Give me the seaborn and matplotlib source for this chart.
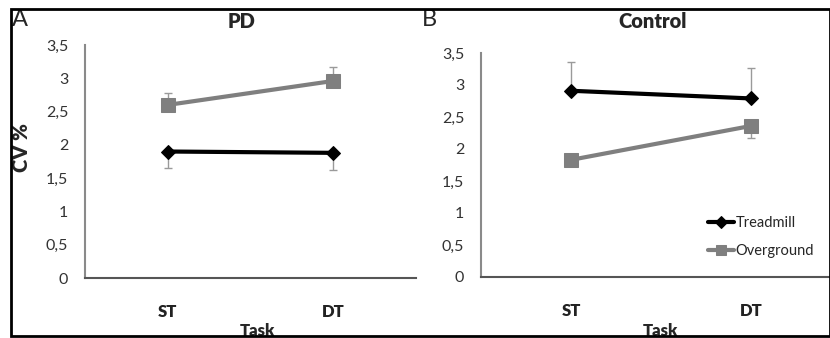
import matplotlib
matplotlib.use("Agg")
import matplotlib.pyplot as plt
import seaborn as sns
import pandas as pd
from matplotlib.patches import Rectangle

sns.set_style("white")
plt.rcParams['font.family'] = ['Lato', 'DejaVu Sans']

tasks = ["ST", "DT"]
conditions = ["Treadmill", "Overground"]

pd_treadmill = [1.90, 1.88]
pd_treadmill_err_low = [0.25, 0.26]
pd_overground = [2.60, 2.96]
pd_overground_err_up = [0.18, 0.21]

ctrl_treadmill = [2.91, 2.79]
ctrl_treadmill_err_up = [0.45, 0.47]
ctrl_overground = [1.83, 2.36]
ctrl_overground_err_low = [0.05, 0.19]

yticks = [0, 0.5, 1, 1.5, 2, 2.5, 3, 3.5]
ytick_labels = ["0", "0,5", "1", "1,5", "2", "2,5", "3", "3,5"]

colors = {"Treadmill": "#000000", "Overground": "#7f7f7f"}
markers = {"Treadmill": "D", "Overground": "s"}

W, H = 830, 338
fig = plt.figure(figsize=(W / 100, H / 100), dpi=100)


def fx(px):
    return px / W


def fy(py):
    return 1 - py / H


def make_df(tr, og):
    rows = []
    for i, t in enumerate(tasks):
        rows.append({"Task": t, "Condition": "Treadmill", "CV": tr[i]})
        rows.append({"Task": t, "Condition": "Overground", "CV": og[i]})
    return pd.DataFrame(rows)


def draw_panel(ax, tr, og, tr_err, og_err, xmax):
    df = make_df(tr, og)
    for cond in conditions:
        sub = df[df["Condition"] == cond]
        vals = sub["CV"].values
        err = tr_err if cond == "Treadmill" else og_err
        ax.errorbar([0, 1], vals, yerr=err, fmt="none", ecolor="#9a9a9a",
                    elinewidth=1.0, capsize=3, capthick=1.0, zorder=1)
    for cond in conditions:
        sub = df[df["Condition"] == cond]
        sns.lineplot(data=sub, x="Task", y="CV", ax=ax, color=colors[cond],
                     marker=markers[cond], markersize=7.5 if cond == "Treadmill" else 10,
                     markeredgecolor=colors[cond], linewidth=3, label=cond,
                     sort=False, zorder=3)
    ax.set_ylim(0, 3.5)
    ax.set_xlim(-0.5, xmax)
    ax.set_yticks(yticks)
    ax.set_yticklabels(ytick_labels, fontsize=11.5, color="#333333")
    ax.set_xticks([0, 1])
    ax.set_xticklabels(tasks, fontsize=12, fontweight="heavy", color="#222222")
    ax.set_xticks([0.5], minor=True)
    ax.tick_params(axis="x", which="major", length=0, pad=19)
    ax.tick_params(axis="x", which="minor", length=4, color="#555555", direction="out")
    ax.tick_params(axis="y", length=0, pad=12)
    for s in ["top", "right"]:
        ax.spines[s].set_visible(False)
    ax.spines["left"].set_color("#8a8a8a")
    ax.spines["left"].set_linewidth(1.5)
    ax.spines["bottom"].set_color("#555555")
    ax.spines["bottom"].set_linewidth(1.5)
    ax.set_xlabel("")
    ax.set_ylabel("")
    ax.grid(False)


axA = fig.add_axes([fx(85), fy(278), fx(416 - 85), fy(45) - fy(278)])
draw_panel(axA, pd_treadmill, pd_overground,
           [pd_treadmill_err_low, [0, 0]], [[0, 0], pd_overground_err_up], 1.5)
axA.get_legend().remove()

axB = fig.add_axes([fx(481), fy(277), fx(830 - 481), fy(53) - fy(277)])
draw_panel(axB, ctrl_treadmill, ctrl_overground,
           [[0, 0], ctrl_treadmill_err_up], [ctrl_overground_err_low, [0, 0]], 1.44)
axB.legend(loc="upper left", bbox_to_anchor=(fx(695), fy(203)),
           bbox_transform=fig.transFigure, frameon=False, fontsize=10.5,
           handlelength=1.8, labelspacing=0.95, handletextpad=0.1, markerscale=0.75)

fig.text(fx(12), fy(19), "A", fontsize=17, ha="left", va="center")
fig.text(fx(422), fy(19), "B", fontsize=17, ha="left", va="center")
fig.text(fx(242), fy(21), "PD", fontsize=14.5, fontweight="heavy", ha="center", va="center")
fig.text(fx(653), fy(21), "Control", fontsize=14.5, fontweight="heavy", ha="center", va="center")
fig.text(fx(22), fy(148), "CV %", fontsize=14.5, fontweight="heavy", rotation=90,
         ha="center", va="center")
fig.text(fx(257), fy(331), "Task", fontsize=12, fontweight="heavy", ha="center", va="center")
fig.text(fx(660), fy(331), "Task", fontsize=12, fontweight="heavy", ha="center", va="center")

fig.add_artist(Rectangle((fx(11), fy(336)), fx(830 - 11), fy(9) - fy(336),
                         transform=fig.transFigure, fill=False, edgecolor="black",
                         linewidth=2, zorder=10))
fig.add_artist(Rectangle((fx(0), fy(338)), 1, fy(336), transform=fig.transFigure,
                         fill=True, facecolor="white", edgecolor="none", zorder=9))

fig.savefig("out.png", dpi=100)
